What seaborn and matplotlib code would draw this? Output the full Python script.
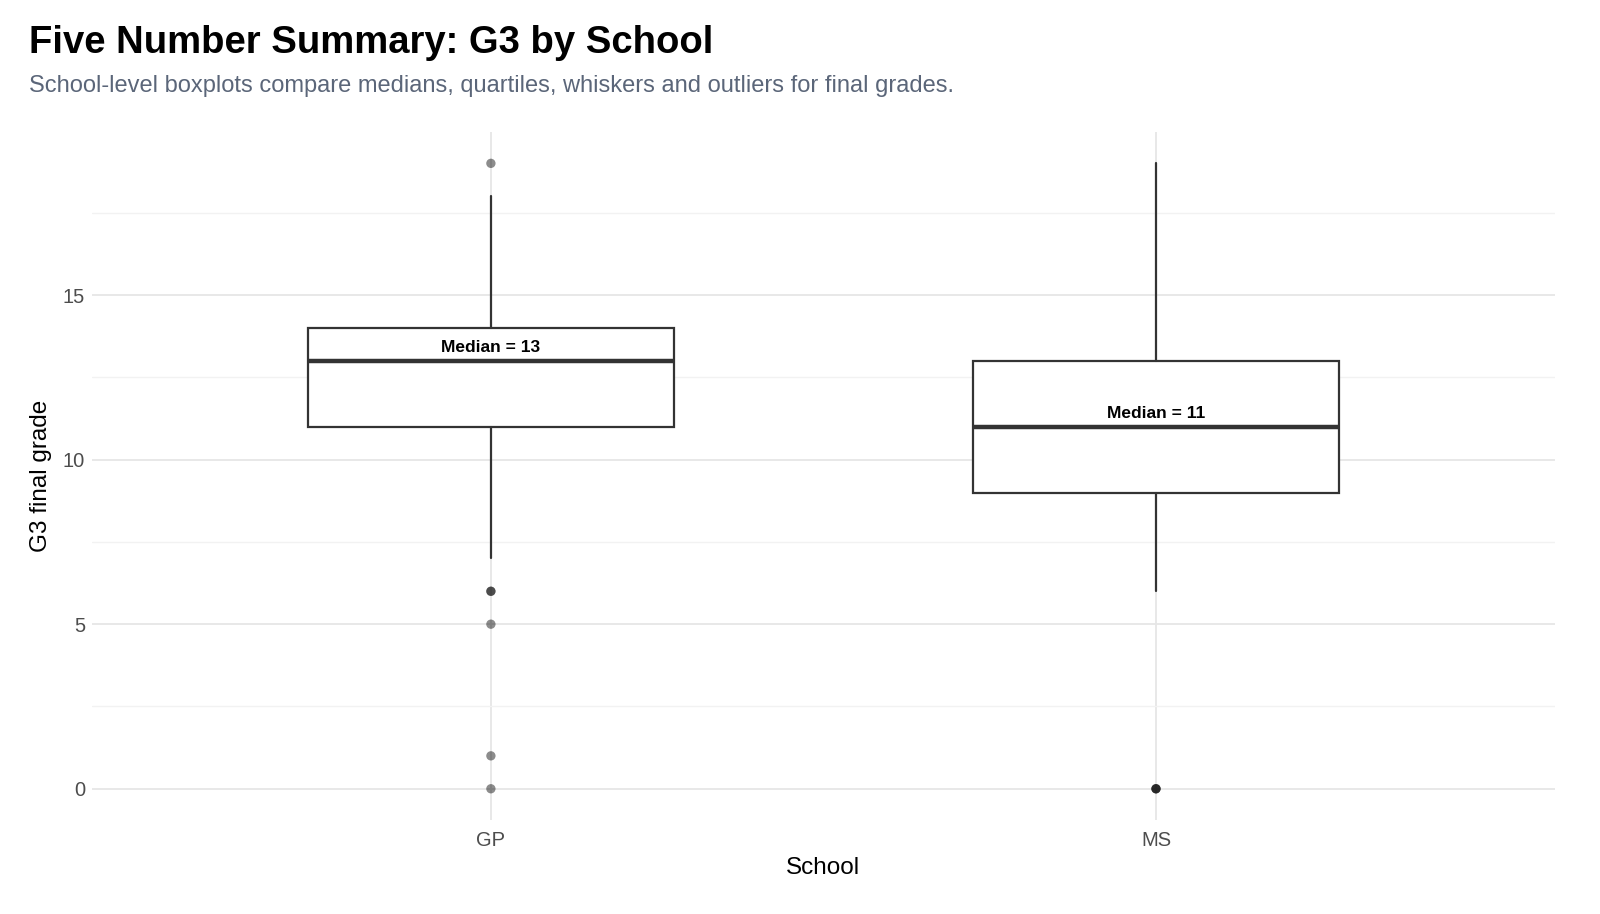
import matplotlib
matplotlib.use('Agg')
import matplotlib.pyplot as plt
import seaborn as sns
import pandas as pd

### five number summary
schools = ['GP', 'MS']
q1 = [11, 9]
medians = [13, 11]
q3 = [14, 13]
whisk_lo = [7, 6]
whisk_hi = [18, 19]
# outliers (repeated values = overlapping points)
out_school = ['GP', 'GP', 'GP', 'GP', 'GP', 'GP', 'MS', 'MS', 'MS']
out_g3 = [19, 6, 6, 5, 1, 0, 0, 0, 0]

sns.set_theme(style='whitegrid')
plt.rcParams['font.family'] = ['Liberation Sans', 'DejaVu Sans']

fig = plt.figure(figsize=(16, 9.14), dpi=100)
ax = fig.add_axes([0.0574, 0.1028, 0.9145, 0.7527])

pos = list(range(1, len(schools) + 1))
stats = []
for i, s in enumerate(schools):
    stats.append({'label': s, 'q1': q1[i], 'med': medians[i], 'q3': q3[i],
                  'whislo': whisk_lo[i], 'whishi': whisk_hi[i], 'fliers': []})

line_c = '#333333'
ax.bxp(stats, positions=pos, widths=0.55, showcaps=False, showfliers=False,
       patch_artist=True,
       boxprops=dict(facecolor='white', edgecolor=line_c, linewidth=1.6),
       whiskerprops=dict(color=line_c, linewidth=1.6),
       medianprops=dict(color=line_c, linewidth=3.2))

out = pd.DataFrame({'school': out_school, 'G3': out_g3})
out['x'] = out['school'].map({s: p for s, p in zip(schools, pos)})
sns.scatterplot(data=out, x='x', y='G3', color='black', alpha=0.45, s=45,
                edgecolor='none', ax=ax, zorder=3)

for p, m in zip(pos, medians):
    ax.text(p, m + 0.18, 'Median = %d' % m, ha='center', va='bottom',
            fontsize=12.5, fontweight='bold', color='black')

ax.set_xlim(0.4, 2.6)
ax.set_ylim(-0.95, 19.95)
ax.set_xticks(pos)
ax.set_xticklabels(schools)
ax.set_yticks([0, 5, 10, 15])
ax.set_yticks([2.5, 7.5, 12.5, 17.5], minor=True)
ax.grid(True, which='major', color='#e6e6e6', linewidth=1.3)
ax.grid(True, which='minor', axis='y', color='#f2f2f2', linewidth=1.0)
ax.set_axisbelow(True)
for sp in ax.spines.values():
    sp.set_visible(False)
ax.tick_params(axis='both', which='both', length=0, labelsize=14.5,
               labelcolor='#4d4d4d', pad=5)
ax.tick_params(axis='x', pad=8)
ax.set_xlabel('School', fontsize=17.5, color='black', labelpad=5)
ax.set_ylabel('G3 final grade', fontsize=17.5, color='black', labelpad=8)

fig.text(0.018, 0.953, 'Five Number Summary: G3 by School', fontsize=27.5,
         fontweight='bold', color='black', va='center', ha='left')
fig.text(0.018, 0.906, 'School-level boxplots compare medians, quartiles, whiskers and outliers for final grades.',
         fontsize=17, color='#5b6679', va='center', ha='left')

fig.savefig('out.png', dpi=100, facecolor='white')
